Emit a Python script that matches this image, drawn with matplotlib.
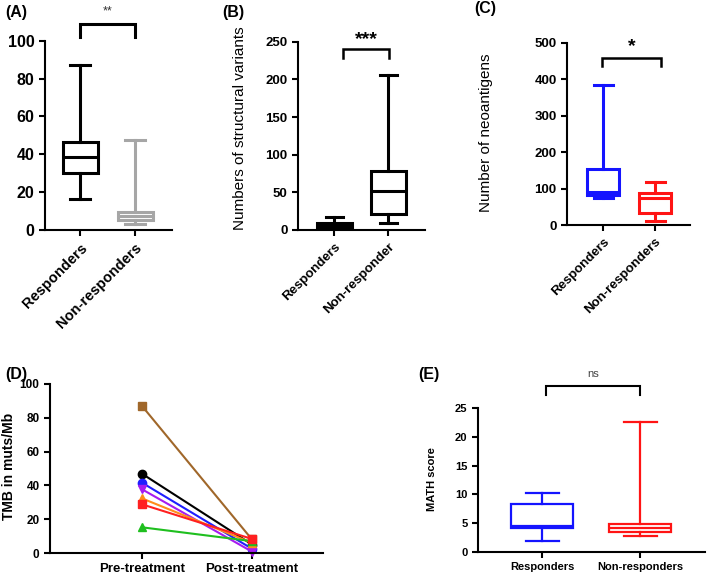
import matplotlib
matplotlib.use("Agg")
import matplotlib.pyplot as plt

plt.rcParams['font.family'] = ['Liberation Sans', 'DejaVu Sans']

W, H = 708, 578

# ---------------- data ----------------
groups_A = ["Responders", "Non-responders"]
tmb_resp = dict(whislo=16.2, q1=30.3, med=38.5, q3=46.6, whishi=87.0)
tmb_nonresp = dict(whislo=3.2, q1=5.3, med=7.6, q3=9.3, whishi=47.5)

groups_B = ["Responders", "Non-responder"]
sv_resp = dict(whislo=0.0, q1=0.0, med=5.0, q3=9.3, whishi=17.0)
sv_nonresp = dict(whislo=8.9, q1=20.8, med=52.2, q3=78.3, whishi=205.8)

groups_C = ["Responders", "Non-responders"]
neo_resp = dict(whislo=73, q1=82, med=91, q3=152.7, whishi=384)
neo_nonresp = dict(whislo=11, q1=32, med=75, q3=87, whishi=119)

timepoints = ["Pre-treatment", "Post-treatment"]
pre_tmb = [87.0, 46.9, 41.6, 37.7, 32.3, 15.2, 28.8]
post_tmb = [8.0, 5.0, 2.5, 0.8, 6.0, 7.0, 8.3]
patient_colors = ["#a0672a", "#000000", "#1f1fff", "#a61cf0", "#ff8c1a", "#1fbf1f", "#ff2020"]
patient_markers = ["s", "o", "o", "v", "^", "^", "s"]

groups_E = ["Responders", "Non-responders"]
math_resp = dict(whislo=1.9, q1=4.2, med=4.5, q3=8.3, whishi=10.2)
math_nonresp = dict(whislo=2.8, q1=3.5, med=4.1, q3=4.8, whishi=22.6)

fig = plt.figure(figsize=(W / 100, H / 100), dpi=100)


def make_ax(x0, x1, ytop, ybot, cat_px, ylim, yticks):
    ax = fig.add_axes([x0 / W, 1 - ybot / H, (x1 - x0) / W, (ybot - ytop) / H])
    scale = cat_px[1] - cat_px[0]
    xmin = -(cat_px[0] - x0) / scale
    xmax = xmin + (x1 - x0) / scale
    ax.set_xlim(xmin, xmax)
    ax.set_ylim(*ylim)
    ax.set_yticks(yticks)
    ax.set_xticks([0, 1])
    for s in ['top', 'right']:
        ax.spines[s].set_visible(False)
    for s in ['left', 'bottom']:
        ax.spines[s].set_linewidth(1.5)
    ax.tick_params(width=1.5, length=4, direction='out')
    ax.patch.set_alpha(0)
    return ax, scale


def boxes(ax, stats, colors, wpx, cpx, scale, lw, fills=None):
    for i, (st, c) in enumerate(zip(stats, colors)):
        d = dict(st)
        fc = 'none' if fills is None else fills[i]
        ax.bxp([d], positions=[i], widths=wpx / scale, capwidths=[cpx / scale],
               showfliers=False, patch_artist=True,
               boxprops=dict(edgecolor=c, facecolor=fc, linewidth=lw),
               medianprops=dict(color=c, linewidth=lw),
               whiskerprops=dict(color=c, linewidth=lw),
               capprops=dict(color=c, linewidth=lw),
               manage_ticks=False)


def bracket(ax, x0, x1, ybottom, ytop, text, fs, weight='normal', color='black', ytext=None, lw=1.8):
    ax.plot([x0, x0, x1, x1], [ybottom, ytop, ytop, ybottom], color='black',
            lw=lw, clip_on=False, solid_joinstyle='miter')
    ax.text((x0 + x1) / 2, ytext, text, ha='center', va='center', fontsize=fs,
            fontweight=weight, color=color, clip_on=False)


# ---------------- Panel A ----------------
axA, sA = make_ax(45, 172, 40.7, 230, (80, 135), (0, 100), range(0, 101, 20))
boxes(axA, [tmb_resp, tmb_nonresp], ['black', '#a6a6a6'], 35, 20, sA, 2.2)
axA.set_xticklabels(groups_A, rotation=45, ha='right', rotation_mode='anchor',
                    fontsize=10.5, fontweight='bold')
for t in axA.get_yticklabels():
    t.set_fontsize(11.5); t.set_fontweight('bold')
bracket(axA, 0, 1, 102, 108.8, "**", 9, ytext=115.5, color='#333333', lw=2.2)

# ---------------- Panel B ----------------
axB, sB = make_ax(298, 425, 41.7, 230, (334, 388), (0, 250), range(0, 251, 50))
boxes(axB, [sv_resp, sv_nonresp], ['black', 'black'], 35, 17, sB, 2.2, fills=['black', 'none'])
axB.set_xticklabels(groups_B, rotation=45, ha='right', rotation_mode='anchor',
                    fontsize=9.5, fontweight='bold')
for t in axB.get_yticklabels():
    t.set_fontsize(9.5); t.set_fontweight('bold')
bracket(axB, 0.17, 1.02, 229, 240, "***", 14, weight='bold', ytext=253)
fig.text(240 / W, 1 - 128 / H, "Numbers of structural variants", rotation=90,
         ha='center', va='center', fontsize=11)

# ---------------- Panel C ----------------
axC, sC = make_ax(567, 690, 42.7, 225, (603, 655), (0, 500), range(0, 501, 100))
boxes(axC, [neo_resp, neo_nonresp], ['#1414ff', '#ff1414'], 32, 19, sC, 2.2)
axC.set_xticklabels(groups_C, rotation=45, ha='right', rotation_mode='anchor',
                    fontsize=9.5, fontweight='bold')
for t in axC.get_yticklabels():
    t.set_fontsize(9.5); t.set_fontweight('bold')
bracket(axC, -0.02, 1.12, 436, 457, "*", 14, weight='bold', ytext=490)
fig.text(486 / W, 1 - 133 / H, "Number of neoantigens", rotation=90,
         ha='center', va='center', fontsize=11)

# ---------------- Panel D ----------------
axD, sD = make_ax(50, 323, 384, 553, (142, 252), (0, 100), range(0, 101, 20))
for pre, post, c, m in zip(pre_tmb, post_tmb, patient_colors, patient_markers):
    axD.plot([0, 1], [pre, post], color=c, marker=m, markersize=6, lw=1.5, clip_on=False)
axD.set_xticklabels(timepoints, fontsize=9.5, fontweight='bold')
for t in axD.get_yticklabels():
    t.set_fontsize(8.5); t.set_fontweight('bold')
fig.text(9 / W, 1 - 466 / H, "TMB in muts/Mb", rotation=90,
         ha='center', va='center', fontsize=10, fontweight='bold')

# ---------------- Panel E ----------------
axE, sE = make_ax(478, 705, 408, 552, (542, 640), (0, 25), range(0, 26, 5))
boxes(axE, [math_resp, math_nonresp], ['#1414ff', '#ff1414'], 62, 33, sE, 1.6)
axE.set_xticklabels(groups_E, fontsize=8, fontweight='bold')
for t in axE.get_yticklabels():
    t.set_fontsize(8); t.set_fontweight('bold')
bracket(axE, 0.04, 1.0, 27.3, 28.8, "ns", 8, ytext=30.9, color='#444444', lw=1.5)
fig.text(432 / W, 1 - 479 / H, "MATH score", rotation=90,
         ha='center', va='center', fontsize=8, fontweight='bold')

# ---------------- panel letters ----------------
for lbl, x, y in [("(A)", 5, 12), ("(B)", 222, 12), ("(C)", 474, 8),
                  ("(D)", 5, 374), ("(E)", 418, 374)]:
    fig.text(x / W, 1 - y / H, lbl, ha='left', va='center', fontsize=11.5, fontweight='bold')

fig.savefig("out.png", dpi=100)
